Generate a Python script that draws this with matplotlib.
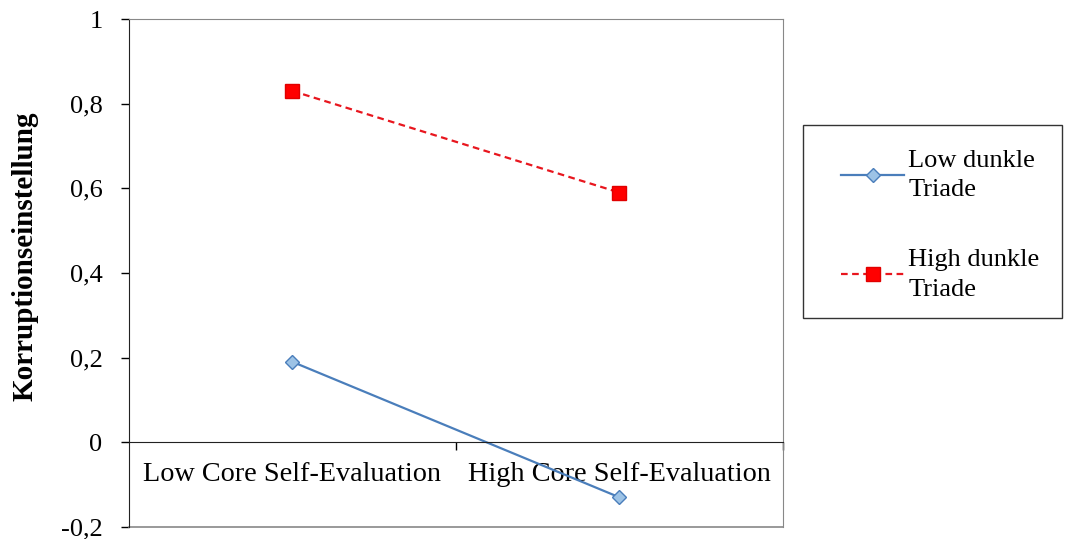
import matplotlib
matplotlib.use("Agg")
import matplotlib.pyplot as plt
from matplotlib.patches import Rectangle

categories = ["Low Core Self-Evaluation", "High Core Self-Evaluation"]
low_triade = [0.19, -0.13]
high_triade = [0.83, 0.59]
y_ticks = [-0.2, 0, 0.2, 0.4, 0.6, 0.8, 1]
y_tick_labels = ["-0,2", "0", "0,2", "0,4", "0,6", "0,8", "1"]

plt.rcParams["font.family"] = ["Liberation Serif", "DejaVu Serif"]

fig = plt.figure(figsize=(10.67, 5.39), dpi=100)
ax = fig.add_axes([0.1209, 0.0223, 0.6129, 0.9424])

x = list(range(len(categories)))
ax.plot(x, low_triade, color="#4a7ebb", lw=1.6, marker="D", ms=7,
        mfc="#9dc3e6", mec="#4a7ebb", mew=1.0, label="Low dunkle\nTriade")
ax.plot(x, high_triade, color="#e8161e", lw=1.6, ls=(0, (3, 2)), marker="s", ms=9.5,
        mfc="#ff0000", mec="#e00000", label="High dunkle\nTriade")

ax.set_xlim(-0.5, 1.5)
ax.set_ylim(-0.2, 1)
ax.set_yticks(y_ticks)
ax.set_yticklabels(y_tick_labels, fontsize=19)
ax.tick_params(axis="y", direction="out", length=6, width=1, pad=13)

# x axis at zero with category labels
ax.spines["bottom"].set_position(("data", 0))
ax.spines["bottom"].set_color("#222222")
ax.set_xticks([0.5, 1.5])
ax.set_xticklabels(["", ""])
ax.set_xticks(x, minor=True)
ax.set_xticklabels(categories, minor=True, fontsize=20.3)
ax.tick_params(axis="x", which="major", direction="out", length=6, width=1)
ax.tick_params(axis="x", which="minor", length=0, pad=14)

ax.spines["left"].set_color("#222222")
ax.spines["top"].set_color("#888888")
ax.spines["right"].set_color("#888888")
ax.plot([0, 1], [0, 0], transform=ax.transAxes, color="#888888", lw=1.2, clip_on=False)

ax.set_ylabel("Korruptionseinstellung", fontsize=21, fontweight="bold")
ax.yaxis.set_label_coords(-0.138, 0.533)

# legend with a separately drawn frame
fig.patches.append(Rectangle((0.7526, 0.41), 0.2427, 0.358, transform=fig.transFigure,
                             facecolor="white", edgecolor="#333333", lw=1.0, zorder=0))
leg = fig.legend(loc="upper left", bbox_to_anchor=(0.7882, 0.722),
                 fontsize=19, frameon=False, handlelength=2.4, handletextpad=0.15,
                 labelspacing=1.8, borderaxespad=0, borderpad=0)
for t in leg.get_texts():
    t.set_linespacing(1.45)

fig.savefig("out.png", dpi=100)
